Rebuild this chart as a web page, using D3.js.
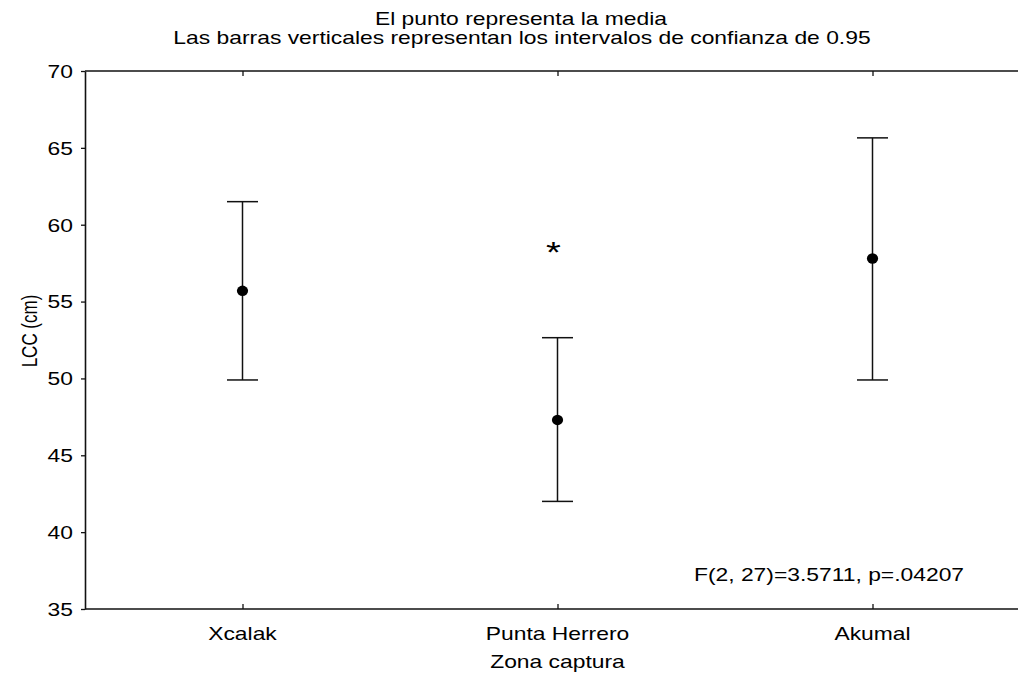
<!DOCTYPE html>
<html>
<head>
<meta charset="utf-8">
<script src="https://cdn.jsdelivr.net/npm/d3@7"></script>
<style>
  html, body { margin: 0; padding: 0; background: #fff; overflow: hidden; }
  svg { display: block; }
  text { font-family: "Liberation Sans", Arial, sans-serif; fill: #000; }
</style>
</head>
<body>
<svg id="chart" width="1018" height="675"></svg>
<script>
// ---- data ----
const categories = ["Xcalak", "Punta Herrero", "Akumal"];
const means = [55.7, 47.3, 57.8];
const lowerCI = [49.9, 42.0, 49.9];
const upperCI = [61.5, 52.65, 65.65];
const yTicks = [35, 40, 45, 50, 55, 60, 65, 70];
const titleLines = ["El punto representa la media", "Las barras verticales representan los intervalos de confianza de 0.95"];
const yLabel = "LCC (cm)";
const xLabel = "Zona captura";
const statText = "F(2, 27)=3.5711, p=.04207";
const annotations = [{ cat: "Punta Herrero", value: 58.7, text: "*" }];

// ---- layout ----
const mLeft = 85, mRight = 1030, mTop = 71, mBottom = 609;
const SX = 1.27; // horizontal text stretch
const FS = 18;

const svg = d3.select("#chart");

const x = d3.scalePoint().domain(categories).range([mLeft, mRight]).padding(0.5);
const y = d3.scaleLinear().domain([35, 70]).range([mBottom, mTop]);

function stretchedText(g, str, tx, ty, anchor, size) {
  return g.append("text")
    .attr("transform", `translate(${tx},${ty}) scale(${SX},1)`)
    .attr("text-anchor", anchor)
    .style("font-size", (size || FS) + "px")
    .text(str);
}

// titles
stretchedText(svg, titleLines[0], 521, 25, "middle");
stretchedText(svg, titleLines[1], 522, 44, "middle");

// frame lines: top, bottom
const lineColor = "#111";
svg.append("line").attr("x1", mLeft).attr("x2", mRight).attr("y1", mTop).attr("y2", mTop)
  .attr("stroke", lineColor).attr("stroke-width", 1.6);
svg.append("line").attr("x1", mLeft).attr("x2", mRight).attr("y1", mBottom).attr("y2", mBottom)
  .attr("stroke", lineColor).attr("stroke-width", 1.6);

// y axis
const yAxis = svg.append("g").attr("transform", `translate(${mLeft},0)`)
  .call(d3.axisLeft(y).tickValues(yTicks).tickSize(4).tickSizeOuter(0).tickFormat(d3.format("d")));
yAxis.select(".domain").attr("stroke", lineColor).attr("stroke-width", 1.6);
yAxis.selectAll(".tick line").attr("stroke", lineColor).attr("stroke-width", 1.3);
yAxis.selectAll(".tick text")
  .attr("x", null).attr("dy", "0.35em")
  .attr("fill", "#000")
  .attr("transform", `translate(-12,0) scale(${SX},1)`)
  .style("font-size", FS + "px")
  .style("font-family", '"Liberation Sans", Arial, sans-serif');

// bottom axis ticks (inward)
const xAxisB = svg.append("g").attr("transform", `translate(0,${mBottom})`)
  .call(d3.axisBottom(x).tickSize(-5).tickSizeOuter(0));
xAxisB.select(".domain").remove();
xAxisB.selectAll(".tick line").attr("stroke", lineColor).attr("stroke-width", 1.3);
xAxisB.selectAll(".tick text").remove();
categories.forEach(c => stretchedText(svg, c, x(c), 640, "middle"));

// top axis ticks (inward)
const xAxisT = svg.append("g").attr("transform", `translate(0,${mTop})`)
  .call(d3.axisTop(x).tickSize(-5).tickSizeOuter(0));
xAxisT.select(".domain").remove();
xAxisT.selectAll(".tick line").attr("stroke", lineColor).attr("stroke-width", 1.3);
xAxisT.selectAll(".tick text").remove();

// axis labels
stretchedText(svg, xLabel, (mLeft + mRight) / 2, 668, "middle");
svg.append("text")
  .attr("transform", `translate(37,331) scale(1.25,1) rotate(-90)`)
  .attr("text-anchor", "middle")
  .style("font-size", "17px")
  .text(yLabel);

// error bars
const capHalf = 15.5;
const data = categories.map((c, i) => ({ c, m: means[i], lo: lowerCI[i], hi: upperCI[i] }));
const g = svg.append("g");
g.selectAll(".whisk").data(data).join("line")
  .attr("x1", d => x(d.c)).attr("x2", d => x(d.c))
  .attr("y1", d => y(d.hi)).attr("y2", d => y(d.lo))
  .attr("stroke", lineColor).attr("stroke-width", 1.5);
g.selectAll(".capHi").data(data).join("line")
  .attr("x1", d => x(d.c) - capHalf).attr("x2", d => x(d.c) + capHalf)
  .attr("y1", d => y(d.hi)).attr("y2", d => y(d.hi))
  .attr("stroke", lineColor).attr("stroke-width", 1.5);
g.selectAll(".capLo").data(data).join("line")
  .attr("x1", d => x(d.c) - capHalf).attr("x2", d => x(d.c) + capHalf)
  .attr("y1", d => y(d.lo)).attr("y2", d => y(d.lo))
  .attr("stroke", lineColor).attr("stroke-width", 1.5);
g.selectAll(".dot").data(data).join("ellipse")
  .attr("cx", d => x(d.c)).attr("cy", d => y(d.m))
  .attr("rx", 5.6).attr("ry", 5.2)
  .attr("fill", "#000");

// annotations
annotations.forEach(a => {
  svg.append("text")
    .attr("transform", `translate(${x(a.cat) - 4},${y(a.value) + 17}) scale(${SX},1)`)
    .attr("text-anchor", "middle")
    .style("font-size", "30px")
    .text(a.text);
});

// stat text
stretchedText(svg, statText, 829, 581, "middle");
</script>
</body>
</html>
